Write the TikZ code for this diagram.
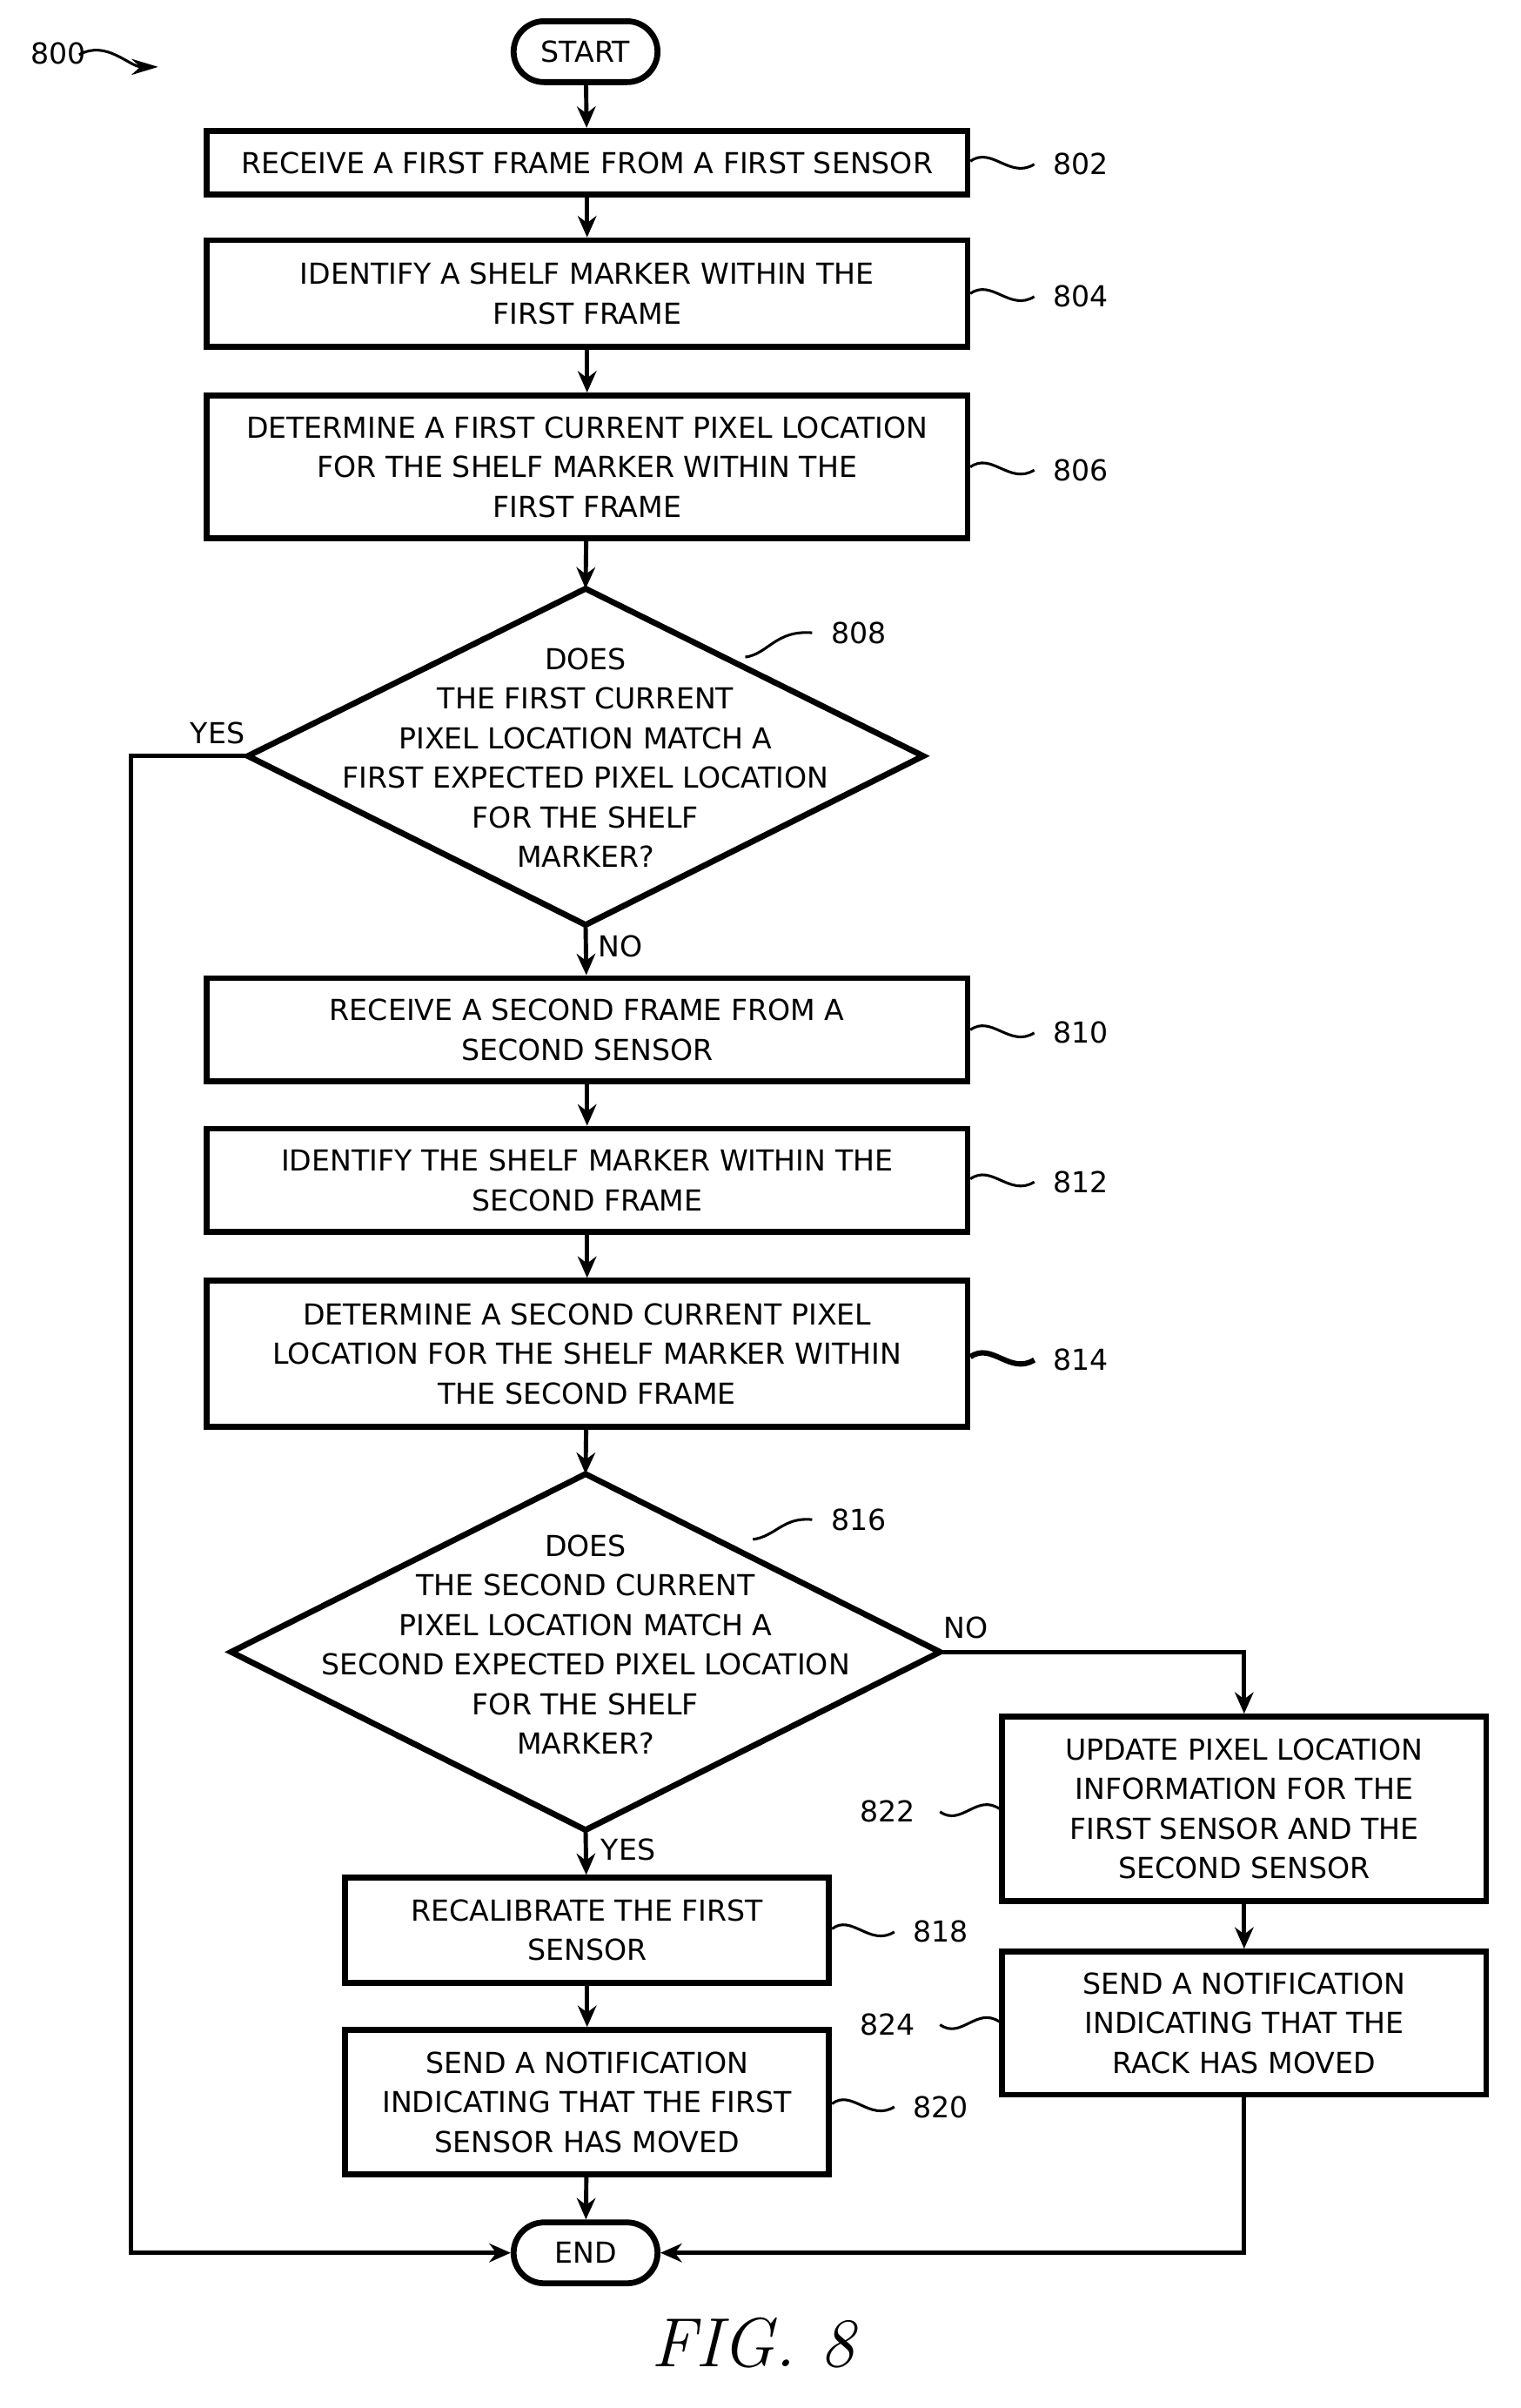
\documentclass[tikz,border=0pt]{standalone}
\usepackage{fontspec}
\setsansfont{DejaVu Sans}
\usetikzlibrary{shapes.geometric}
\usetikzlibrary{arrows.meta}
\usetikzlibrary{shapes.misc}

\tikzset{
  box/.style={draw,line width=1.1pt,rectangle,align=center,font=\sffamily\fontsize{5.4}{7.4}\selectfont,inner sep=0pt},
  term/.style={draw,line width=1.1pt,rounded rectangle,minimum width=1.18cm,minimum height=0.4cm,font=\sffamily\fontsize{5.4}{7.4}\selectfont},
  flow/.style={line width=0.8pt,-{Stealth[length=4pt,width=3.5pt]}},
  tag/.style={font=\sffamily\fontsize{5.4}{7.4}\selectfont},
  lead/.style={line width=0.5pt}
}

\begin{document}
\begin{tikzpicture}[x=0.01cm,y=-0.01cm]
\useasboundingbox (0,0) rectangle (1000,1583);

\node[term] (start) at (385,34) {START};
\node[box,minimum width=5cm,minimum height=0.42cm] (s802) at (386,107) {RECEIVE A FIRST FRAME FROM A FIRST SENSOR};
\node[box,minimum width=5cm,minimum height=0.70cm] (s804) at (386,193) {IDENTIFY A SHELF MARKER WITHIN THE\\FIRST FRAME};
\node[box,minimum width=5cm,minimum height=0.94cm] (s806) at (386,307) {DETERMINE A FIRST CURRENT PIXEL LOCATION\\FOR THE SHELF MARKER WITHIN THE\\FIRST FRAME};
\draw[line width=1.1pt] (385,387) -- (607,497) -- (385,608) -- (163,497) -- cycle;
\coordinate (d808t) at (385,387); \coordinate (d808b) at (385,608); \coordinate (d808l) at (163,497);
\node[tag,align=center] (t808) at (385,498) {DOES\\THE FIRST CURRENT\\PIXEL LOCATION MATCH A\\FIRST EXPECTED PIXEL LOCATION\\FOR THE SHELF\\MARKER?};
\node[box,minimum width=5cm,minimum height=0.68cm] (s810) at (386,677) {RECEIVE A SECOND FRAME FROM A\\SECOND SENSOR};
\node[box,minimum width=5cm,minimum height=0.68cm] (s812) at (386,776) {IDENTIFY THE SHELF MARKER WITHIN THE\\SECOND FRAME};
\node[box,minimum width=5cm,minimum height=0.96cm] (s814) at (386,890) {DETERMINE A SECOND CURRENT PIXEL\\LOCATION FOR THE SHELF MARKER WITHIN\\THE SECOND FRAME};
\draw[line width=1.1pt] (385,969) -- (618,1086) -- (385,1203) -- (152,1086) -- cycle;
\coordinate (d816t) at (385,969); \coordinate (d816b) at (385,1203); \coordinate (d816r) at (618,1086);
\node[tag,align=center] (t816) at (385,1081) {DOES\\THE SECOND CURRENT\\PIXEL LOCATION MATCH A\\SECOND EXPECTED PIXEL LOCATION\\FOR THE SHELF\\MARKER?};
\node[box,minimum width=3.18cm,minimum height=0.69cm] (s818) at (386,1269) {RECALIBRATE THE FIRST\\SENSOR};
\node[box,minimum width=3.18cm,minimum height=0.95cm] (s820) at (386,1382) {SEND A NOTIFICATION\\INDICATING THAT THE FIRST\\SENSOR HAS MOVED};
\node[box,minimum width=3.18cm,minimum height=1.21cm] (s822) at (818,1189) {UPDATE PIXEL LOCATION\\INFORMATION FOR THE\\FIRST SENSOR AND THE\\SECOND SENSOR};
\node[box,minimum width=3.18cm,minimum height=0.94cm] (s824) at (818,1330) {SEND A NOTIFICATION\\INDICATING THAT THE\\RACK HAS MOVED};
\node[term] (end) at (385,1481) {END};

% main flow
\draw[flow] (start) -- (s802);
\draw[flow] (s802) -- (s804);
\draw[flow] (s804) -- (s806);
\draw[flow] (s806) -- (d808t);
\draw[flow] (d808b) -- (s810);
\draw[flow] (s810) -- (s812);
\draw[flow] (s812) -- (s814);
\draw[flow] (s814) -- (d816t);
\draw[flow] (d816b) -- (s818);
\draw[flow] (s818) -- (s820);
\draw[flow] (s820) -- (end);
\draw[flow] (d816r) -| (s822);
\draw[flow] (s822) -- (s824);
\draw[flow] (s824) |- (end);
\draw[flow] (d808l) -- (86,497) |- (end);

\node[tag] (yes1) at (143,482) {YES};
\node[tag] (no1) at (408,622) {NO};
\node[tag] (no2) at (635,1070) {NO};
\node[tag] (yes2) at (413,1216) {YES};

% reference numerals
\node[tag,anchor=west] (n802) at (680,108) {802};
\draw[lead] (638,106) .. controls (652,96) and (664,118) .. (680,108);
\node[tag,anchor=west] (n804) at (680,195) {804};
\draw[lead] (638,193) .. controls (652,183) and (664,205) .. (680,195);
\node[tag,anchor=west] (n806) at (680,309) {806};
\draw[lead] (638,307) .. controls (652,297) and (664,319) .. (680,309);
\node[tag,anchor=west] (n808) at (534,416) {808};
\draw[lead] (490,432) .. controls (505,430) and (510,414) .. (534,416);
\node[tag,anchor=west] (n810) at (680,679) {810};
\draw[lead] (638,677) .. controls (652,667) and (664,689) .. (680,679);
\node[tag,anchor=west] (n812) at (680,777) {812};
\draw[lead] (638,775) .. controls (652,765) and (664,787) .. (680,777);
\node[tag,anchor=west] (n814) at (680,894) {814};
\draw[line width=1pt] (638,892) .. controls (652,882) and (664,904) .. (680,894);
\node[tag,anchor=west] (n816) at (534,999) {816};
\draw[lead] (495,1012) .. controls (510,1010) and (515,997) .. (534,999);
\node[tag,anchor=west] (n818) at (588,1270) {818};
\draw[lead] (547,1268) .. controls (560,1258) and (572,1280) .. (588,1270);
\node[tag,anchor=west] (n820) at (588,1385) {820};
\draw[lead] (547,1383) .. controls (560,1373) and (572,1395) .. (588,1385);
\node[tag,anchor=east] (n822) at (614,1191) {822};
\draw[lead] (618,1191) .. controls (632,1201) and (642,1179) .. (657,1189);
\node[tag,anchor=east] (n824) at (614,1331) {824};
\draw[lead] (618,1331) .. controls (632,1341) and (642,1319) .. (657,1329);

\node[tag,anchor=west] (n800) at (8,35) {800};
\draw[lead,-{Stealth[length=5pt,width=3pt]}] (52,36) .. controls (70,26) and (85,44) .. (104,44);

\node[font=\rmfamily\itshape\fontsize{13}{15}\selectfont] (fig) at (495,1540) {FIG. 8};
\end{tikzpicture}
\end{document}
